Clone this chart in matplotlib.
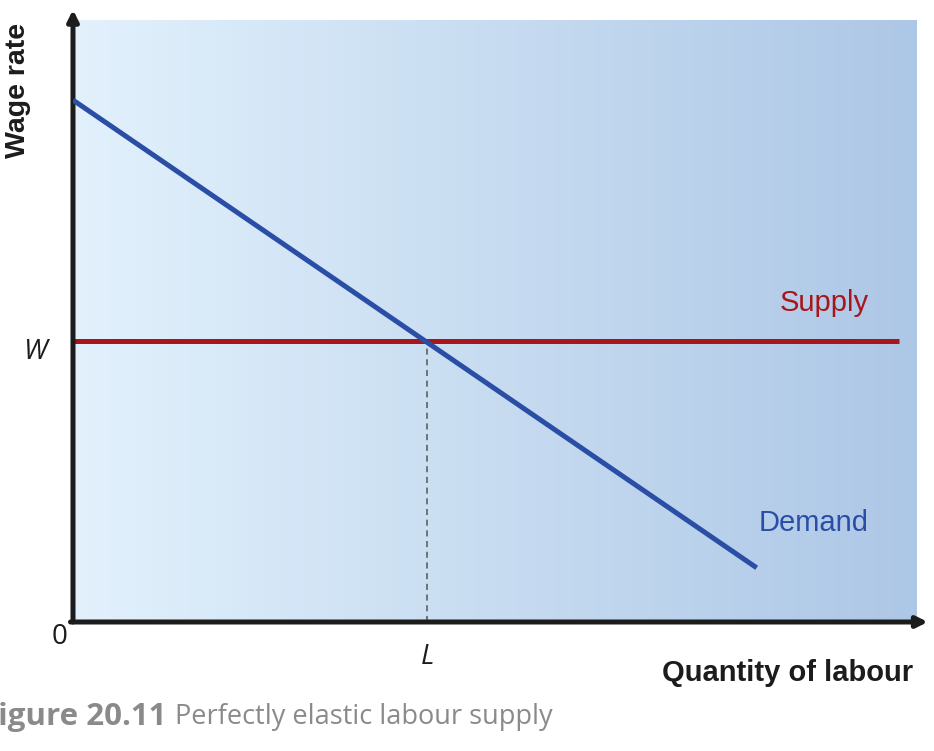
import numpy as np
import matplotlib.pyplot as plt

# curve data (arbitrary units, axes run 0..10)
demand_x = [0.0, 8.11]
demand_y = [8.67, 0.90]
supply_x = [0.0, 9.80]
supply_y = [4.67, 4.67]
eq_x = 4.20
eq_y = 4.67

fig = plt.figure(figsize=(9.34, 7.51), dpi=100)
W, H = 934, 751
ax = fig.add_axes([73 / W, (H - 622) / H, (916 - 73) / W, (622 - 20) / H])
ax.set_xlim(0, 10)
ax.set_ylim(0, 10)

# gradient background
grad = np.linspace(0, 1, 256).reshape(1, -1)
c0 = np.array([0.886, 0.945, 0.988])
c1 = np.array([0.678, 0.780, 0.902])
img = c0 + (c1 - c0) * grad[..., None]
ax.imshow(img, extent=[0, 10, 0, 10], aspect='auto', zorder=0)

for s in ax.spines.values():
    s.set_visible(False)
ax.set_xticks([])
ax.set_yticks([])

# curves
ax.plot(supply_x, supply_y, color='#a8161c', lw=3.6, solid_capstyle='butt', zorder=3)
ax.plot(demand_x, demand_y, color='#2a4ea6', lw=3.6, solid_capstyle='butt', zorder=4)
ax.plot([eq_x, eq_x], [0, eq_y], color='#555555', lw=1.1, ls=(0, (4, 3)), zorder=2)

# axes with arrows
axcol = '#1c1c1c'
ax.annotate('', xy=(0, 1.017), xytext=(0, 0), xycoords='axes fraction',
            arrowprops=dict(arrowstyle='-|>', lw=3.6, color=axcol, mutation_scale=16,
                            shrinkA=0, shrinkB=0), annotation_clip=False)
ax.annotate('', xy=(1.014, 0), xytext=(-0.003, 0), xycoords='axes fraction',
            arrowprops=dict(arrowstyle='-|>', lw=3.6, color=axcol, mutation_scale=16,
                            shrinkA=0, shrinkB=0), annotation_clip=False)

# labels
fig.text(18 / W, 1 - 90 / H, 'Wage rate', rotation=90, ha='center', va='center',
         fontsize=20.5, fontweight='bold', family='Liberation Sans', color='#1c1c1c')
fig.text(913 / W, 1 - 673 / H, 'Quantity of labour', ha='right', va='center',
         fontsize=21, fontweight='bold', family='Liberation Sans', color='#1c1c1c')
ax.text(8.91, eq_y + 0.63, 'Supply', ha='center', va='center', fontsize=21,
        family='Liberation Sans', color='#a8161c')
ax.text(8.78, 1.65, 'Demand', ha='center', va='center', fontsize=21,
        family='Liberation Sans', color='#2a4ea6')

fig.text(36 / W, 1 - 352 / H, 'W', ha='center', va='center', fontsize=20,
         style='italic', family='Open Sans', color='#1c1c1c')
fig.text(427 / W, 1 - 657 / H, 'L', ha='center', va='center', fontsize=20,
         style='italic', family='Open Sans', color='#1c1c1c')
fig.text(60 / W, 1 - 637 / H, '0', ha='center', va='center', fontsize=20,
         family='Open Sans', color='#1c1c1c')

# caption (cropped at left edge as in the source)
cap = fig.text(-19 / W, 1 - 717 / H, 'Figure 20.11', ha='left', va='center',
               fontsize=22.5, fontweight='bold', family='Open Sans', color='#8a8a8a')
fig.canvas.draw()
bb = cap.get_window_extent()
fig.text((bb.x1 + 9) / W, 1 - 717 / H, 'Perfectly elastic labour supply', ha='left',
         va='center', fontsize=19.5, family='Open Sans', color='#8a8a8a')

fig.savefig('out.png', dpi=100)
